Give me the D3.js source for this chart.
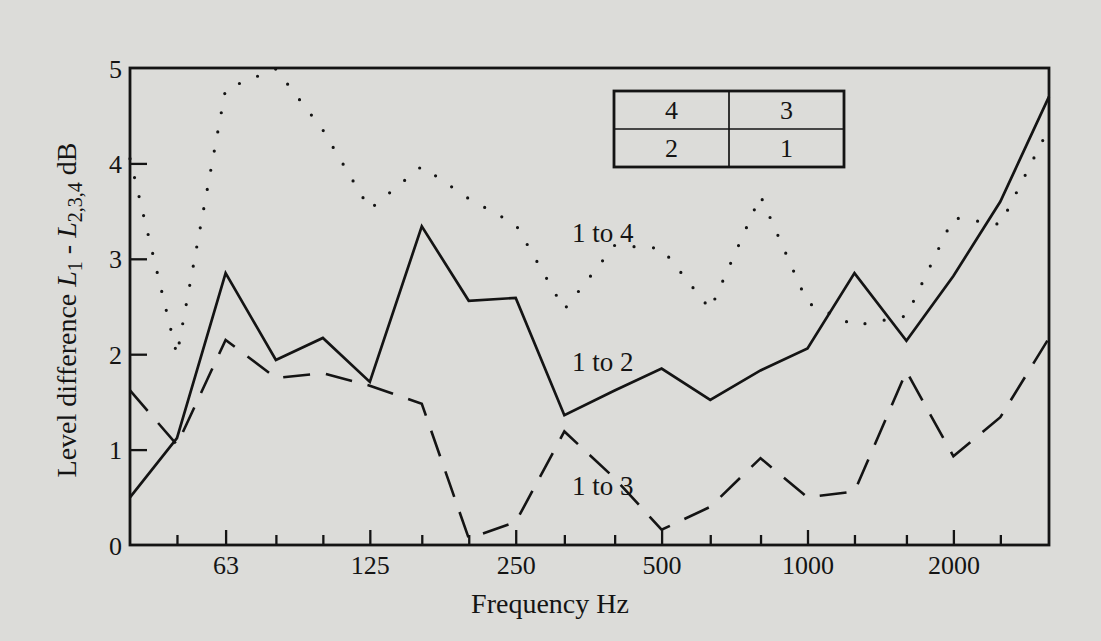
<!DOCTYPE html>
<html>
<head>
<meta charset="utf-8">
<script src="https://cdn.jsdelivr.net/npm/d3@7"></script>
<style>
  body { margin: 0; background: #dcdcd9; }
  svg { display: block; }
  text { font-family: "Liberation Serif", "Times New Roman", serif; fill: #141414; }
</style>
</head>
<body>
<svg id="chart" width="1101" height="641"></svg>
<script>
// third-octave band centres, Hz
var freqs = [40, 50, 63, 80, 100, 125, 160, 200, 250, 315, 400, 500, 630, 800, 1000, 1250, 1600, 2000, 2500, 3150];
var labelledFreqs = [63, 125, 250, 500, 1000, 2000];
var yTicks = [0, 1, 2, 3, 4, 5];

// level differences, dB
var oneToTwo   = [0.50, 1.12, 2.85, 1.94, 2.17, 1.71, 3.34, 2.56, 2.59, 1.36, 1.62, 1.85, 1.52, 1.83, 2.06, 2.85, 2.14, 2.82, 3.60, 4.70];
var oneToThree = [1.62, 1.05, 2.15, 1.75, 1.80, 1.67, 1.48, 0.07, 0.24, 1.19, 0.70, 0.16, 0.40, 0.91, 0.50, 0.56, 1.82, 0.93, 1.34, 2.17];
var oneToFour  = [4.05, 1.99, 4.78, 4.99, 4.35, 3.52, 3.97, 3.63, 3.36, 2.47, 3.14, 3.11, 2.47, 3.66, 2.54, 2.30, 2.40, 3.43, 3.36, 4.37];

// room layout sketch in the corner
var roomCells = [["4", "3"], ["2", "1"]];

var plotL = 130, plotR = 1049, plotT = 68, plotB = 545;

var svg = d3.select("#chart");

var x = d3.scaleLog().domain([40, 3150]).range([plotL, plotR]);
var y = d3.scaleLinear().domain([0, 5]).range([plotB, plotT]);

// x axis, ticks pointing into the plot
var xAxis = d3.axisBottom(x)
    .tickValues(freqs.slice(1, -1))
    .tickSizeInner(0).tickSizeOuter(0)
    .tickPadding(0)
    .tickFormat(function(d){ return labelledFreqs.indexOf(d) >= 0 ? d : ""; });

var gx = svg.append("g").attr("transform", "translate(0," + plotB + ")").call(xAxis);
gx.select(".domain").remove();
gx.selectAll(".tick line")
    .attr("y2", function(d){ return labelledFreqs.indexOf(d) >= 0 ? -15 : -10; })
    .attr("stroke", "#141414")
    .attr("stroke-width", 2.3);
gx.selectAll(".tick text")
    .attr("y", 29)
    .attr("dy", 0)
    .style("font-size", "26px")
    .style("font-family", "'Liberation Serif', serif")
    .attr("fill", "#141414");

// y axis
var yAxis = d3.axisLeft(y)
    .tickValues(yTicks)
    .tickSizeInner(0).tickSizeOuter(0)
    .tickPadding(8)
    .tickFormat(d3.format("d"));

var gy = svg.append("g").attr("transform", "translate(" + plotL + ",0)").call(yAxis);
gy.select(".domain").remove();
gy.selectAll(".tick line")
    .attr("x2", function(d){ return (d > 0 && d < 5) ? 17 : 0; })
    .attr("stroke", "#141414")
    .attr("stroke-width", 2.3);
gy.selectAll(".tick text")
    .attr("dy", "0.35em")
    .style("font-size", "26px")
    .style("font-family", "'Liberation Serif', serif")
    .attr("fill", "#141414");

// frame
svg.append("rect")
    .attr("x", plotL).attr("y", plotT)
    .attr("width", plotR - plotL).attr("height", plotB - plotT)
    .attr("fill", "none")
    .attr("stroke", "#141414")
    .attr("stroke-width", 2.8);

// series lines
var line = d3.line()
    .x(function(d, i){ return x(freqs[i]); })
    .y(function(d){ return y(d); });

svg.append("path")
    .datum(oneToTwo)
    .attr("d", line)
    .attr("fill", "none")
    .attr("stroke", "#141414")
    .attr("stroke-width", 2.7)
    .attr("stroke-linejoin", "miter");

svg.append("path")
    .datum(oneToThree)
    .attr("d", line)
    .attr("fill", "none")
    .attr("stroke", "#141414")
    .attr("stroke-width", 2.6)
    .attr("stroke-dasharray", "27,16");

svg.append("path")
    .datum(oneToFour)
    .attr("d", line)
    .attr("fill", "none")
    .attr("stroke", "#141414")
    .attr("stroke-width", 3.2)
    .attr("stroke-linecap", "round")
    .attr("stroke-dasharray", "0,19.5");

// series labels (baseline values)
var seriesLabels = [
    {text: "1 to 4", fx: 400, v: 3.18},
    {text: "1 to 2", fx: 400, v: 1.82},
    {text: "1 to 3", fx: 400, v: 0.52}
];
svg.selectAll(".serieslabel")
    .data(seriesLabels)
    .enter().append("text")
    .attr("class", "serieslabel")
    .attr("x", function(d){ return x(d.fx) - 12; })
    .attr("y", function(d){ return y(d.v); })
    .attr("text-anchor", "middle")
    .style("font-size", "27px")
    .text(function(d){ return d.text; });

// little room table, top right
var boxL = 614, boxT = 91, cellW = 115, cellH = 38;
var room = svg.append("g");
room.append("rect")
    .attr("x", boxL).attr("y", boxT)
    .attr("width", cellW * 2).attr("height", cellH * 2)
    .attr("fill", "none").attr("stroke", "#141414").attr("stroke-width", 2.8);
room.append("line")
    .attr("x1", boxL).attr("x2", boxL + cellW * 2)
    .attr("y1", boxT + cellH).attr("y2", boxT + cellH)
    .attr("stroke", "#141414").attr("stroke-width", 1.7);
room.append("line")
    .attr("x1", boxL + cellW).attr("x2", boxL + cellW)
    .attr("y1", boxT).attr("y2", boxT + cellH * 2)
    .attr("stroke", "#141414").attr("stroke-width", 1.7);
roomCells.forEach(function(row, r){
    row.forEach(function(c, k){
        room.append("text")
            .attr("x", boxL + cellW * k + cellW / 2)
            .attr("y", boxT + cellH * r + cellH / 2)
            .attr("dy", "0.35em")
            .attr("text-anchor", "middle")
            .style("font-size", "26px")
            .text(c);
    });
});

// axis titles
svg.append("text")
    .attr("x", 550).attr("y", 613)
    .attr("text-anchor", "middle")
    .style("font-size", "28px")
    .text("Frequency Hz");

var yl = svg.append("text")
    .attr("transform", "translate(76,310) rotate(-90)")
    .attr("text-anchor", "middle")
    .style("font-size", "28px");
yl.append("tspan").text("Level difference ");
yl.append("tspan").style("font-style", "italic").text("L");
yl.append("tspan").attr("dy", 6).style("font-size", "20px").text("1");
yl.append("tspan").attr("dy", -6).text(" - ");
yl.append("tspan").style("font-style", "italic").text("L");
yl.append("tspan").attr("dy", 6).style("font-size", "20px").text("2,3,4");
yl.append("tspan").attr("dy", -6).text(" dB");
</script>
</body>
</html>
